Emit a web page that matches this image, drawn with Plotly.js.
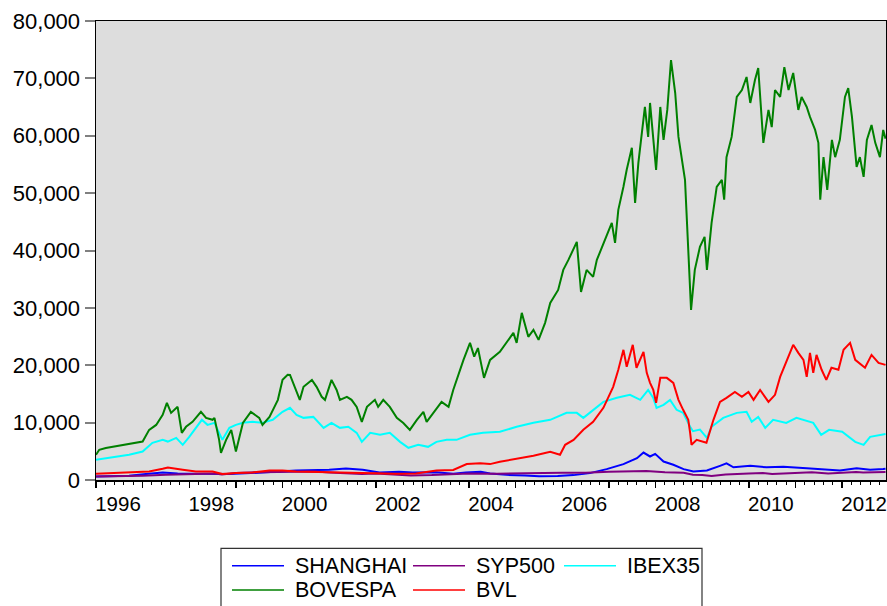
<!DOCTYPE html>
<html><head><meta charset="utf-8">
<script src="https://cdn.plot.ly/plotly-3.0.1.min.js"></script>
<style>html,body{margin:0;padding:0;background:#fff}#chart{width:887px;height:606px}</style>
</head><body><div id="chart"></div>
<script>
// ---- data (decimal year, index level) ----
const shanghaiT = [1996.00,1996.71,1997.07,1997.43,1997.75,1998.14,1998.86,1999.57,2000.29,2001.00,2001.36,2001.72,2002.08,2002.50,2002.79,2003.29,2003.66,2003.93,2004.25,2004.45,2004.80,2005.20,2005.50,2005.90,2006.24,2006.59,2006.95,2007.31,2007.60,2007.74,2007.88,2007.99,2008.17,2008.38,2008.60,2008.81,2009.10,2009.38,2009.52,2009.67,2010.03,2010.38,2010.74,2011.24,2011.60,2011.95,2012.31,2012.60,2012.88,2012.93];
const shanghaiV = [610,730,1030,1310,1150,1080,1030,1310,1650,1780,2000,1780,1310,1450,1310,1350,1080,1310,1450,1150,900,800,650,700,850,1200,1900,2770,3810,4790,4100,4560,3220,2650,1900,1480,1650,2470,2900,2210,2470,2210,2300,2040,1900,1640,2040,1800,1900,1950];

const syp500T = [1996.00,1996.50,1997.00,1997.50,1998.00,1998.55,1998.70,1999.00,1999.50,2000.00,2000.70,2001.00,2001.70,2002.00,2002.40,2002.75,2003.20,2003.60,2004.00,2004.60,2005.00,2005.60,2006.00,2006.50,2007.00,2007.45,2007.80,2008.20,2008.60,2008.80,2009.00,2009.20,2009.50,2010.00,2010.30,2010.50,2011.00,2011.35,2011.70,2012.00,2012.30,2012.45,2012.70,2012.93];
const syp500V = [600,650,740,900,970,1150,960,1230,1350,1450,1480,1320,1050,1150,1000,800,850,1000,1130,1100,1200,1220,1260,1250,1420,1530,1550,1350,1250,900,880,700,950,1120,1200,1050,1280,1360,1150,1280,1400,1320,1430,1410];

const ibex35T = [1996.00,1996.43,1996.71,1997.00,1997.21,1997.43,1997.54,1997.72,1997.86,1998.00,1998.14,1998.27,1998.39,1998.54,1998.71,1998.86,1999.00,1999.15,1999.36,1999.57,1999.79,2000.00,2000.16,2000.30,2000.45,2000.66,2000.88,2001.05,2001.23,2001.41,2001.59,2001.70,2001.88,2002.09,2002.30,2002.52,2002.70,2002.91,2003.12,2003.30,2003.52,2003.73,2004.02,2004.30,2004.66,2005.02,2005.38,2005.74,2006.09,2006.31,2006.45,2006.66,2006.88,2007.17,2007.45,2007.67,2007.84,2007.95,2008.02,2008.17,2008.31,2008.45,2008.59,2008.74,2008.80,2008.95,2009.10,2009.20,2009.45,2009.74,2009.95,2010.06,2010.20,2010.35,2010.52,2010.80,2011.02,2011.38,2011.55,2011.72,2012.00,2012.28,2012.46,2012.60,2012.84,2012.93];
const ibex35V = [3520,4100,4390,4970,6480,7000,6700,7350,6130,7530,9090,10490,9610,9960,7000,9090,9610,9960,10140,9960,10490,11880,12580,11360,10830,11000,9090,9960,9090,9270,8220,6650,8220,7880,8220,6650,5610,6130,5780,6650,7000,7000,7880,8220,8400,9270,9960,10490,11700,11700,10830,12230,13620,14320,14840,13970,15700,14320,12580,13100,13970,12230,11700,9270,8500,8800,7350,9270,10830,11700,11880,10140,11000,9090,10490,9960,10830,9960,7880,8740,8400,6650,6130,7530,7880,8000];

const bovespaT = [1996.00,1996.07,1996.21,1996.43,1996.71,1997.00,1997.14,1997.29,1997.43,1997.52,1997.61,1997.75,1997.84,1997.93,1998.07,1998.25,1998.36,1998.50,1998.54,1998.64,1998.68,1998.79,1998.90,1999.00,1999.15,1999.32,1999.50,1999.57,1999.72,1999.90,2000.00,2000.11,2000.16,2000.25,2000.37,2000.45,2000.63,2000.73,2000.84,2000.91,2001.05,2001.16,2001.23,2001.38,2001.48,2001.59,2001.70,2001.81,2001.98,2002.05,2002.16,2002.30,2002.45,2002.59,2002.73,2002.88,2003.02,2003.09,2003.23,2003.41,2003.56,2003.66,2003.88,2004.02,2004.11,2004.19,2004.32,2004.45,2004.66,2004.95,2005.02,2005.13,2005.27,2005.38,2005.49,2005.63,2005.74,2005.91,2006.02,2006.13,2006.31,2006.40,2006.52,2006.66,2006.74,2006.88,2006.99,2007.06,2007.13,2007.20,2007.31,2007.38,2007.49,2007.56,2007.63,2007.74,2007.77,2007.84,2007.88,2008.01,2008.10,2008.17,2008.25,2008.33,2008.42,2008.49,2008.56,2008.63,2008.66,2008.72,2008.76,2008.84,2008.95,2009.05,2009.10,2009.20,2009.31,2009.42,2009.47,2009.52,2009.63,2009.74,2009.85,2009.95,2010.03,2010.13,2010.20,2010.31,2010.42,2010.49,2010.56,2010.67,2010.76,2010.85,2010.95,2011.06,2011.13,2011.24,2011.31,2011.42,2011.49,2011.53,2011.60,2011.68,2011.78,2011.85,2011.95,2012.06,2012.13,2012.21,2012.31,2012.38,2012.46,2012.53,2012.63,2012.71,2012.81,2012.88,2012.93];
const bovespaV = [4400,5260,5560,5840,6300,6700,8740,9600,11360,13450,11700,12750,8220,9270,10140,11880,10830,10490,10830,7000,4740,7000,8740,4970,9930,11880,10830,9600,11000,13970,17450,18320,18300,16500,13970,16240,17450,16240,14500,13970,17450,15700,13970,14500,13970,12750,10140,12750,13970,12750,13970,12750,10830,9930,8740,10490,11880,10140,11700,13620,12750,15700,20940,23900,21500,23000,17800,20940,22330,25640,23900,29130,24950,26160,24420,27390,30870,33130,36620,38360,41500,32780,36620,35400,38360,41330,43600,44810,41330,47080,51100,54060,57900,48290,55270,62800,65020,59800,65720,54060,65020,59280,64500,73200,67450,59800,55800,52320,47080,35400,29650,36620,40630,42370,36620,44810,51100,52320,48860,56270,59800,66770,67970,70240,65720,69720,71800,58760,64500,61510,67970,66770,71970,67970,70940,64500,66770,65020,63280,61020,58760,48860,56270,50580,59280,56270,59280,66770,68320,63280,54580,56270,52840,59280,61860,58760,56270,61020,59500];

const bvlT = [1996.00,1996.71,1997.14,1997.43,1997.54,1997.86,1998.14,1998.50,1998.71,1999.00,1999.36,1999.72,2000.00,2000.29,2001.00,2001.72,2002.43,2002.86,2003.30,2003.66,2003.95,2004.24,2004.45,2004.66,2005.02,2005.38,2005.74,2005.95,2006.06,2006.24,2006.45,2006.66,2006.88,2007.09,2007.20,2007.31,2007.38,2007.51,2007.59,2007.74,2007.81,2007.88,2007.95,2008.01,2008.10,2008.24,2008.38,2008.49,2008.59,2008.70,2008.74,2008.77,2008.88,2009.09,2009.24,2009.38,2009.52,2009.70,2009.85,2009.99,2010.10,2010.24,2010.42,2010.56,2010.67,2010.81,2010.95,2011.06,2011.17,2011.24,2011.31,2011.38,2011.45,2011.56,2011.66,2011.77,2011.92,2012.03,2012.17,2012.28,2012.49,2012.63,2012.78,2012.93];
const bvlV = [1080,1310,1480,1950,2180,1780,1480,1480,1030,1200,1310,1650,1650,1480,1310,1200,1080,1150,1650,1750,2770,2940,2770,3180,3690,4220,4910,4390,6130,7000,8740,10140,12580,16240,19210,22690,19740,23560,19560,22340,18670,16930,15700,13450,17800,17800,16930,13970,12230,10490,8220,6130,7000,6480,10490,13620,14320,15360,14500,15360,13970,15700,13620,14840,17970,20940,23560,22160,20940,17970,22160,18670,21800,19210,17450,19560,19210,22690,23900,20940,19560,21800,20420,20070];

const seriesNames  = ['SHANGHAI','SYP500','IBEX35','BOVESPA','BVL'];
const seriesT      = [shanghaiT, syp500T, ibex35T, bovespaT, bvlT];
const seriesV      = [shanghaiV, syp500V, ibex35V, bovespaV, bvlV];
const seriesColors = ['#0000FF','#800080','#00FFFF','#008000','#FF0000'];

const yearTicks  = [1996,1997,1998,1999,2000,2001,2002,2003,2004,2005,2006,2007,2008,2009,2010,2011,2012];
const yearLabels = ['1996','','1998','','2000','','2002','','2004','','2006','','2008','','2010','','2012'];
const valueTicks = [0,10000,20000,30000,40000,50000,60000,70000,80000];

// ---- layout geometry ----
const W = 887, H = 606, ML = 96, MR = 1, MT = 21, MB = 126;
const PW = W - ML - MR, PH = H - MT - MB;
const X_RANGE = [1996, 2012.94];
const Y_RANGE = [0, 80000];
const px2x = p => (p - ML) / PW;
const py2y = p => (H - MB - p) / PH;
const FONT = 'Arial, "Liberation Sans", sans-serif';

// legend key slots (EViews-style box below the plot): [sample-line start px, text-left px, row-center px]
const keySlots = [[232,293,565.7],[413,474,565.7],[564,625,565.7],[232,293,590],[413,474,590]];
const KEY_LINE_LEN = 52;

// the last series is placed on the overlaid tick-mark axes (same ranges), so those axes are drawn
const traces = seriesNames.map((n, i) => ({
  type: 'scatter', mode: 'lines', name: n,
  x: seriesT[i], y: seriesV[i],
  line: {color: seriesColors[i], width: 2},
  showlegend: false,
  xaxis: i === seriesNames.length - 1 ? 'x2' : 'x',
  yaxis: i === seriesNames.length - 1 ? 'y2' : 'y'
}));

const keyShapes = seriesNames.map((n, i) => ({
  type: 'line', xref: 'paper', yref: 'paper',
  x0: px2x(keySlots[i][0]), x1: px2x(keySlots[i][0] + KEY_LINE_LEN),
  y0: py2y(keySlots[i][2]), y1: py2y(keySlots[i][2]),
  line: {color: seriesColors[i], width: 1.5}
}));
const keyTexts = seriesNames.map((n, i) => ({
  xref: 'paper', yref: 'paper', x: px2x(keySlots[i][1]), y: py2y(keySlots[i][2]),
  xanchor: 'left', yanchor: 'middle', showarrow: false, text: n,
  font: {size: 21.5, color: '#000', family: FONT}
}));

const layout = {
  width: W, height: H,
  margin: {l: ML, r: MR, t: MT, b: MB, pad: 0, autoexpand: false},
  paper_bgcolor: '#FFFFFF', plot_bgcolor: '#DDDDDD',
  font: {family: FONT, color: '#000', size: 21},
  showlegend: false,
  // label axes
  xaxis: {
    range: X_RANGE, tickmode: 'array', tickvals: yearTicks, ticktext: yearLabels,
    ticks: 'outside', ticklen: 5, tickwidth: 1, tickcolor: 'rgba(0,0,0,0)',
    ticklabelshift: 22, ticklabeloverflow: 'allow',
    tickfont: {size: 20.5, color: '#000', family: FONT},
    showline: true, linecolor: '#000', linewidth: 1.5, mirror: true,
    showgrid: false, zeroline: false
  },
  yaxis: {
    range: Y_RANGE, tickmode: 'array', tickvals: valueTicks, tickformat: ',d',
    ticks: 'outside', ticklen: 10, tickwidth: 1, tickcolor: 'rgba(0,0,0,0)',
    tickfont: {size: 22, color: '#000', family: FONT},
    showline: true, linecolor: '#000', linewidth: 1.5, mirror: true,
    showgrid: false, zeroline: false
  },
  // tick-mark axes (no labels), overlaid on the same ranges
  xaxis2: {
    overlaying: 'x', anchor: 'y2', side: 'bottom', range: X_RANGE,
    tickmode: 'array', tickvals: yearTicks, showticklabels: false,
    ticks: 'outside', ticklen: 7, tickwidth: 1.5, tickcolor: '#000',
    showline: false, showgrid: false, zeroline: false,
    minor: {tick0: 1996, dtick: 0.2, ticks: 'outside', ticklen: 4, tickwidth: 1, tickcolor: '#000', showgrid: false}
  },
  yaxis2: {
    overlaying: 'y', anchor: 'x2', side: 'left', range: Y_RANGE,
    tickmode: 'array', tickvals: valueTicks, showticklabels: false,
    ticks: 'outside', ticklen: 10, tickwidth: 2, tickcolor: '#808080',
    showline: false, showgrid: false, zeroline: false
  },
  shapes: [{
    type: 'rect', xref: 'paper', yref: 'paper',
    x0: px2x(221), x1: px2x(702), y0: py2y(640), y1: py2y(548.3),
    line: {color: '#333333', width: 1.2}, fillcolor: 'rgba(0,0,0,0)'
  }].concat(keyShapes),
  annotations: keyTexts
};

Plotly.newPlot('chart', traces, layout, {staticPlot: true, displayModeBar: false});
</script>
</body></html>
